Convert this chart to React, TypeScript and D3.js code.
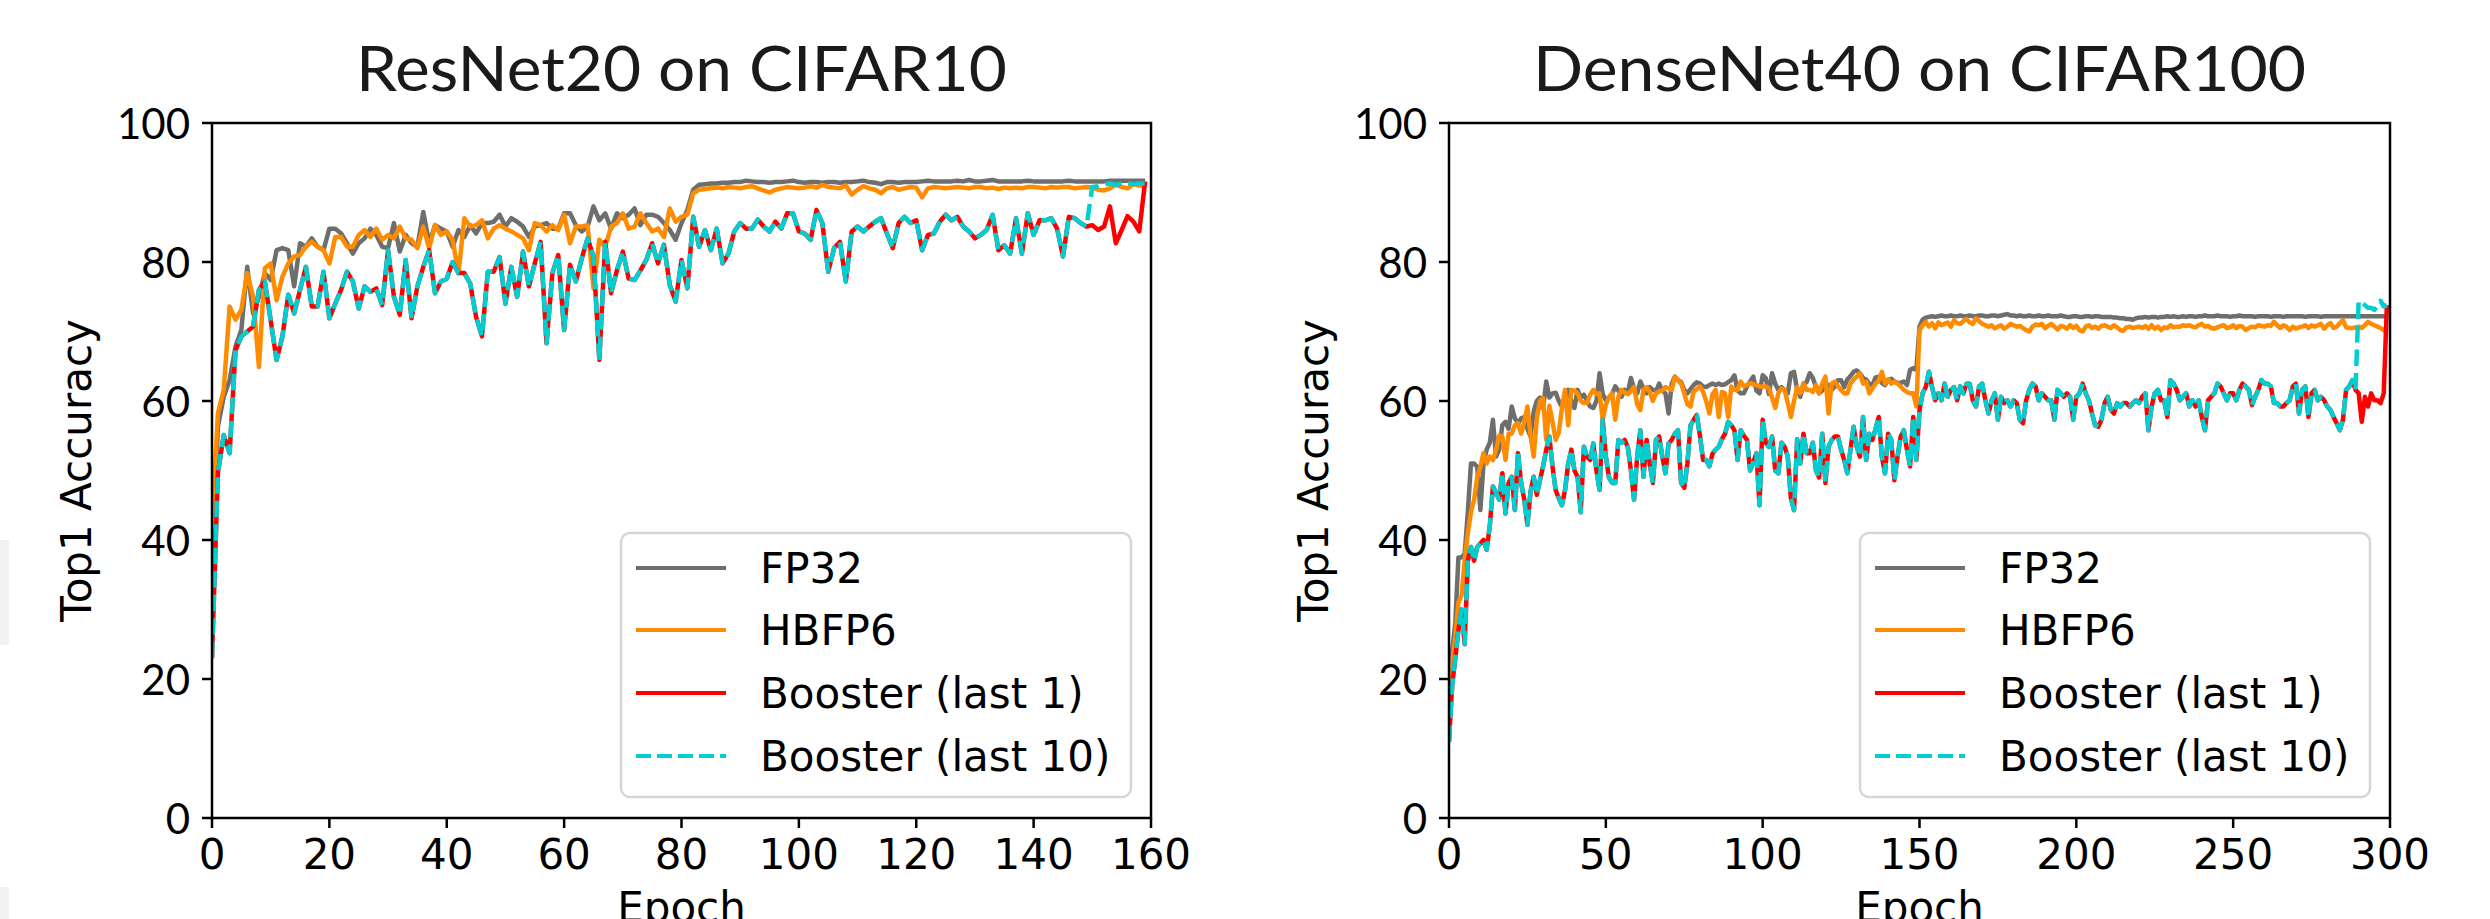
import React from 'react';
import * as d3 from 'd3';

// ---------- data ----------
const legendLabels = ['FP32', 'HBFP6', 'Booster (last 1)', 'Booster (last 10)'];
const yTicks = [0, 20, 40, 60, 80, 100];
const resnetXTicks = [0, 20, 40, 60, 80, 100, 120, 140, 160];
const densenetXTicks = [0, 50, 100, 150, 200, 250, 300];

// ResNet20 on CIFAR10, epochs 0..159
const resnetFp32 = [
  33, 56.3, 60.6, 63, 67.8, 70.2, 79.3, 72.6, 75, 78.4,
  77.4, 81.7, 82, 81.7, 76.5, 82.7, 82.2, 83.4, 82.2, 81.7,
  84.8, 84.8, 84.1, 82.7, 81.2, 82.7, 83.4, 84.8, 83.9, 82.2,
  82, 85.6, 81.5, 83.9, 82.7, 82.2, 87.2, 82.7, 85.3, 84.8,
  84.4, 82.2, 84.6, 83.6, 85.3, 84.1, 85.6, 85.6, 85.8, 86.8,
  85.1, 86.3, 85.8, 85.1, 83.6, 85.1, 85.3, 85.6, 84.8, 84.8,
  87, 87, 85.3, 84.4, 85.1, 88, 86, 87, 84.8, 87,
  86.3, 86.8, 87.7, 85.3, 86.8, 86.8, 86.5, 85.6, 84.6, 83.2,
  85.6, 87.5, 90.4, 91.1, 91.2, 91.3, 91.3, 91.4, 91.4, 91.5,
  91.5, 91.7, 91.6, 91.5, 91.5, 91.4, 91.5, 91.5, 91.6, 91.7,
  91.5, 91.4, 91.5, 91.5, 91.4, 91.5, 91.5, 91.4, 91.5, 91.5,
  91.6, 91.7, 91.5, 91.4, 91.2, 91.5, 91.5, 91.4, 91.5, 91.5,
  91.5, 91.6, 91.7, 91.6, 91.6, 91.6, 91.6, 91.7, 91.6, 91.8,
  91.6, 91.6, 91.7, 91.8, 91.6, 91.6, 91.6, 91.6, 91.6, 91.7,
  91.6, 91.6, 91.6, 91.6, 91.6, 91.6, 91.7, 91.6, 91.6, 91.6,
  91.6, 91.6, 91.6, 91.7, 91.7, 91.7, 91.7, 91.7, 91.7, 91.7,
];
const resnetHbfp6 = [
  41.4, 58.2, 61.6, 73.6, 71.7, 73.1, 78.4, 75, 64.9, 79.1,
  79.8, 74.5, 77.9, 79.8, 80.8, 81, 82.2, 82.9, 82.2, 81.7,
  79.8, 83.6, 83.6, 82.2, 82.2, 83.9, 84.6, 83.6, 84.8, 83.2,
  83.9, 83.4, 85.1, 83.4, 83.2, 82, 85.1, 82, 85.3, 83.9,
  84.4, 83.2, 78.4, 86.3, 85.1, 85.3, 86, 83.4, 84.8, 85.3,
  84.8, 84.4, 83.9, 83.4, 81.7, 85.6, 85.3, 84.4, 85.3, 84.6,
  86.8, 82.7, 85.1, 85.1, 85.3, 76.2, 83.2, 82.2, 85.1, 85.6,
  87, 84.8, 85.1, 87, 85.6, 84.4, 84.8, 83.6, 87.7, 85.8,
  86.5, 86.8, 89.9, 90.4, 90.5, 90.6, 90.7, 90.6, 90.8, 90.7,
  90.6, 90.8, 90.9, 90.6, 90.3, 90.0, 90.4, 90.6, 90.8, 90.7,
  90.6, 90.7, 90.9, 90.7, 91.1, 90.8, 90.7, 90.6, 91.0, 89.7,
  90.4, 90.9, 90.6, 90.4, 89.9, 90.6, 90.8, 90.4, 90.6, 90.8,
  90.7, 89.3, 90.6, 90.8, 90.7, 90.6, 90.7, 90.8, 90.7, 90.6,
  90.8, 90.8, 90.6, 90.7, 90.5, 90.7, 90.6, 90.7, 90.6, 90.8,
  90.8, 90.7, 90.6, 90.8, 90.7, 90.8, 90.8, 90.6, 90.7, 90.8,
  90.7, 90.4, 90.3, 90.6, 91.1, 90.8, 90.6, 91.2, 91.0, 90.9,
];
const resnetBoostLast1 = [
  23, 49.6, 55.1, 52.5, 67.3, 69.3, 70, 70.7, 76, 77.2,
  71.6, 65.9, 69.3, 75.3, 72.6, 76, 79.3, 73.6, 73.6, 78.6,
  71.9, 74, 76, 78.6, 77.2, 73.3, 76.5, 75.7, 76.2, 73.8,
  81.7, 75, 72.4, 80.3, 71.9, 76.5, 79.3, 81.7, 75.5, 77.2,
  77.6, 80, 78.4, 78.4, 76.9, 72.1, 69.3, 78.6, 78.6, 80.7,
  74, 79.3, 75, 81.5, 76.5, 79.8, 82.9, 68.3, 78.4, 81,
  70.2, 79.6, 77.2, 80.5, 83.4, 80.8, 65.9, 82.9, 75.5, 78.8,
  81.5, 77.6, 77.4, 78.8, 80.3, 82.7, 79.8, 82.5, 76.7, 74.3,
  80.3, 76.2, 86.5, 82.2, 84.6, 81.7, 84.8, 79.8, 81.2, 84.4,
  85.6, 84.8, 84.8, 86.1, 85.1, 84.4, 85.8, 84.8, 87, 87,
  84.4, 84.1, 83.2, 87.5, 85.6, 78.6, 82, 82.9, 77.2, 84.4,
  85.1, 84.4, 85.1, 85.8, 86.3, 84.1, 82, 85.6, 86.5, 85.6,
  86, 81.7, 83.9, 84.1, 85.8, 86.8, 86, 86.5, 85.1, 84.4,
  83.4, 83.9, 84.6, 86.8, 81.7, 82.4, 81.2, 86.3, 81.2, 87,
  83.9, 86, 86, 86.3, 84.8, 80.8, 86.5, 86.3, 85.6, 85.1,
  85.3, 84.6, 85.1, 88, 82.7, 84.6, 86.6, 85.8, 84.4, 91.6,
];
// last 10 epochs of "Booster (last 10)" (epochs 150..159)
const resnetBoostTail10 = [90.8, 90.9, 91.2, 91.3, 91.1, 91.3, 91.4, 91.2, 91.3, 91.3];

// DenseNet40 on CIFAR100, epochs 0..299
const densenetFp32 = [
  19, 24, 28, 37.5, 37.5, 38, 44, 51, 51, 50.5,
  44.3, 51, 53, 54, 57.3, 52, 53, 56.5, 57, 56,
  59.2, 57.5, 56.8, 57.5, 57.7, 56, 54.9, 58.5, 60, 60.5,
  59, 62.8, 60.5, 61.1, 61.2, 60, 59.2, 60.5, 61.6, 60,
  59, 61.6, 60.5, 60.9, 60, 59.2, 59, 60, 64, 61,
  60.1, 60.5, 61, 62.1, 61.5, 60.6, 61.6, 61.2, 63.3, 61.8,
  61.1, 62.8, 61.8, 61.1, 62, 61.6, 61.4, 62.5, 61.5, 61.1,
  58.2, 62.5, 63.5, 63, 62.7, 61.6, 61.1, 61.7, 62.3, 62.7,
  62.5, 62.1, 62, 62.3, 62.5, 62.3, 62.5, 62.3, 62.4, 62.7,
  63, 63.7, 61.5, 61.1, 61.1, 62.1, 62.8, 63.5, 61.5, 61.1,
  63.7, 63.3, 61, 64, 62.5, 61.6, 62, 61.6, 61.1, 64,
  64.2, 61.6, 60.6, 62.5, 62.7, 64, 63.3, 62, 61.1, 61.5,
  62.5, 62.3, 61.6, 62.1, 63, 63, 62, 63.1, 63.6, 64.2,
  64.4, 64, 63.3, 63.1, 62.4, 62.3, 63.4, 63.5, 62.6, 62.3,
  63, 63.2, 62.8, 62.6, 62.6, 62.8, 62.3, 64.5, 64.7, 64.5,
  70.7, 71.7, 72.0, 72.1, 72.2, 72.1, 72.2, 72.3, 72.2, 72.2,
  72.3, 72.2, 72.2, 72.3, 72.2, 72.2, 72.3, 72.2, 72.2, 72.3,
  72.3, 72.2, 72.2, 72.3, 72.3, 72.2, 72.3, 72.4, 72.5, 72.3,
  72.3, 72.2, 72.3, 72.2, 72.2, 72.3, 72.2, 72.2, 72.3, 72.2,
  72.2, 72.3, 72.2, 72.2, 72.2, 72.3, 72.2, 72.1, 72.1, 72.2,
  72.2, 72.1, 72.1, 72.2, 72.2, 72.1, 72.2, 72.2, 72.1, 72.1,
  72.1, 72.1, 72.0, 72.0, 71.9, 71.9, 71.8, 71.8, 71.7, 71.9,
  72.0, 72.0, 72.1, 72.0, 72.1, 72.1, 72.0, 72.1, 72.1, 72.2,
  72.1, 72.2, 72.1, 72.1, 72.2, 72.1, 72.2, 72.2, 72.1, 72.2,
  72.2, 72.3, 72.2, 72.2, 72.2, 72.3, 72.2, 72.2, 72.2, 72.1,
  72.2, 72.2, 72.3, 72.2, 72.2, 72.2, 72.2, 72.1, 72.2, 72.2,
  72.2, 72.2, 72.1, 72.2, 72.2, 72.2, 72.1, 72.2, 72.2, 72.2,
  72.2, 72.2, 72.2, 72.1, 72.2, 72.2, 72.2, 72.2, 72.1, 72.2,
  72.2, 72.2, 72.2, 72.2, 72.2, 72.2, 72.2, 72.2, 72.2, 72.2,
  72.2, 72.2, 72.2, 72.2, 72.2, 72.2, 72.2, 72.2, 72.2, 72.2,
];
const densenetHbfp6 = [
  17, 22, 26, 31, 32, 37, 41, 44, 45.8, 49,
  50.5, 52.5, 51, 52, 51.5, 53, 55, 54.9, 51.5, 55.3,
  55.3, 56.5, 56.8, 55.3, 57, 59.2, 55, 52, 57.5, 60,
  60.4, 54.4, 59.3, 57, 54.4, 55.5, 59, 61.6, 56.5, 61.6,
  61.5, 61.1, 60, 59.7, 59.7, 60.9, 61.6, 61, 61.1, 57.3,
  59.5, 60.5, 61.1, 57.3, 60.6, 61.6, 61.2, 61, 61.4, 62,
  59.5, 58.7, 61.6, 62, 61.3, 60, 61.1, 61.4, 61.5, 62,
  61.8, 61.6, 63.5, 63, 62.5, 61.1, 59.5, 59.2, 61.4, 61.7,
  62.1, 61.3, 60, 58.2, 61, 61.6, 57.7, 61.3, 61.1, 57.7,
  62.1, 61.6, 61.6, 62.8, 62.1, 62.3, 62.6, 62.4, 62.3, 62.1,
  62.1, 62.1, 61.8, 60.5, 59, 61.1, 61.8, 61.6, 59.7, 57.7,
  60, 62, 61.1, 62.5, 61.6, 61.6, 61.3, 62.3, 61.1, 62.5,
  63.5, 58.2, 62.5, 62.8, 62.1, 61.6, 61.1, 61.1, 62.5, 63.1,
  63.5, 64, 62.5, 62.8, 61.1, 61.8, 62.5, 62.9, 64.2, 62.5,
  63.1, 62.5, 62.8, 62.5, 62.1, 61.6, 61.3, 61.1, 61.1, 59.2,
  70.2, 70.9, 71.4, 70.7, 71.2, 70.45, 71.3, 70.9, 71.1, 71.3,
  70.7, 71.6, 71.2, 71.1, 71.5, 71.8, 71.3, 71.1, 71.9, 71.5,
  71.1, 70.9, 70.7, 70.9, 70.45, 70.7, 70.9, 70.4, 70.7, 71.1,
  70.9, 70.7, 70.8, 70.5, 70.2, 70.0, 70.7, 71.0, 70.9, 71.1,
  70.5, 70.8, 71.1, 70.7, 70.3, 70.8, 70.7, 70.4, 70.9, 70.5,
  70.8, 70.2, 70.0, 70.7, 70.9, 70.5, 70.7, 70.4, 70.8, 70.9,
  70.7, 70.5, 70.9, 70.6, 70.2, 70.1, 70.6, 70.7, 70.5, 70.6,
  70.7, 70.5, 70.8, 70.4, 70.9, 70.4, 70.7, 70.2, 70.6, 70.5,
  70.9, 70.6, 70.7, 70.7, 70.9, 70.8, 70.9, 70.7, 70.6, 70.9,
  71.1, 70.7, 70.8, 70.5, 70.4, 70.6, 70.8, 70.9, 70.5, 70.6,
  70.9, 70.5, 70.8, 70.7, 70.2, 70.5, 70.7, 70.6, 70.9, 70.8,
  70.7, 70.9, 70.8, 71.4, 70.9, 70.5, 70.9, 70.7, 70.2, 70.7,
  70.4, 70.6, 70.7, 70.9, 70.5, 70.9, 70.7, 70.9, 71.1, 70.4,
  70.9, 71.2, 70.5, 70.7, 71.2, 71.65, 70.6, 70.5, 70.5, 70.6,
  70.7, 70.5, 70.9, 71.4, 71.1, 70.9, 70.7, 70.5, 70.2, 69.7,
];
const densenetBoostLast1 = [
  11, 19, 23, 27, 30, 25, 37, 39, 37, 39,
  39.5, 40, 38.6, 42, 47.7, 46.8, 45.8, 49.6, 43.8, 48.2,
  49.1, 44.3, 52.5, 48.2, 45.8, 42.2, 47, 49.1, 46.5, 48.6,
  50.6, 53, 54.9, 50.6, 47.2, 46, 45, 47.2, 51, 53,
  50, 49.1, 44, 53.4, 52, 51.5, 53.9, 50, 47.2, 57.3,
  52, 49, 48.2, 48.2, 54.4, 54, 54.4, 53.4, 50, 45.8,
  52, 55.8, 49.1, 54.4, 51, 48.2, 54.4, 54.9, 52, 49.6,
  53.9, 54.4, 55.3, 55.8, 48.2, 47.5, 51, 56.5, 57.3, 58,
  55, 51.5, 51.5, 50.6, 52.4, 53, 53.4, 54.5, 55.3, 57,
  56.5, 55.8, 51.5, 55.8, 55, 54.4, 50, 51.2, 52.5, 45,
  57.3, 54, 53.4, 54.9, 50, 49.6, 54, 53.4, 52, 46,
  44.3, 54.5, 51, 55.3, 52.5, 52.5, 54, 50, 49, 55.3,
  48.2, 53.4, 54.4, 54.9, 54.9, 53, 51.5, 49.6, 53, 56.3,
  53.4, 52, 57.7, 51.5, 55.3, 54.4, 56, 57.7, 52, 49.6,
  55.3, 54.4, 48.6, 52, 54.9, 55.8, 53, 50.6, 57.7, 51.5,
  58.7, 61.1, 62, 64.2, 62, 60.1, 61.1, 60.1, 62.5, 60.6,
  61.6, 62, 60.1, 62.1, 61.1, 62.5, 62.5, 60.1, 59.2, 62.1,
  62.5, 60.1, 58.2, 60.1, 61.1, 57.3, 60.6, 59.7, 60.1, 59.2,
  60.1, 59.7, 57.3, 56.8, 60.1, 61.6, 62.5, 62.1, 60.1, 61.1,
  60.6, 60.1, 60.1, 57.3, 61.6, 61.1, 60.6, 61.1, 60.6, 57.3,
  60.6, 61.1, 62.5, 61.1, 60.1, 58.2, 56.5, 56.3, 57.3, 59.7,
  60.6, 58.7, 58.2, 59.7, 59.2, 59.7, 59.7, 59.2, 59.7, 60.1,
  59.7, 60.6, 61.1, 55.8, 59.2, 61.1, 61.6, 60.1, 60.1, 57.7,
  63, 62.5, 61.6, 60.1, 60.6, 61.1, 59.2, 60.1, 59.2, 60.1,
  57.7, 55.8, 60.1, 60.6, 61.1, 62.5, 62.1, 61.1, 60.1, 61.1,
  61.1, 60.1, 61.6, 62.5, 62.1, 61.6, 59.4, 60.6, 61.6, 63,
  62.5, 62.5, 62.1, 59.7, 59.7, 59.2, 59.2, 59.7, 60.1, 62.1,
  62.5, 58.2, 61.6, 62.1, 57.7, 61.1, 61.6, 60.1, 60.6, 60.1,
  59.2, 58.7, 57.7, 56.8, 55.8, 57.3, 61.6, 62.1, 63, 61.6,
  61.1, 57, 60.6, 59.2, 61.1, 60.1, 60.1, 59.7, 61.1, 73.8,
];
// last 10 epochs of "Booster (last 10)" (epochs 290..299)
const densenetBoostTail10 = [74.4, 74.2, 73.8, 73.4, 73.4, 73.1, 73.6, 74.4, 73.6, 73.8];

// ---------- layout ----------
const W = 2490;
const H = 919;
const TOP = 123;
const BOTTOM = 818;
const COLORS = ['#6e6e6e', '#ff8c00', '#ff0000', '#00ced1'];
const LW = 4.5;
const DASH = '16.5,7';
const DEJAVU = "'DejaVu Sans', sans-serif";
const TITLEFONT = "Lato, 'Open Sans', sans-serif";

type PanelProps = {
  id: string;
  title: string;
  titleWidth: number;
  left: number;
  right: number;
  xMax: number;
  xTicks: number[];
  fp32: number[];
  hbfp6: number[];
  boost1: number[];
  boostTail: number[];
  ylabelX: number;
};

function Panel(p: PanelProps) {
  const x = d3.scaleLinear().domain([0, p.xMax]).range([p.left, p.right]);
  const y = d3.scaleLinear().domain([0, 100]).range([BOTTOM, TOP]);
  const line = d3.line<number>().x((_, i) => x(i)).y(d => y(d));

  const n = p.boost1.length;
  const boost10 = p.boost1.slice(0, n - p.boostTail.length).concat(p.boostTail);
  const series = [p.fp32, p.hbfp6, p.boost1, boost10];
  const cx = (p.left + p.right) / 2;

  // legend box
  const lgRight = p.right - 20;
  const lgLeft = lgRight - 510;
  const lgTop = 533;
  const rowY = [568, 630, 693, 756];

  return (
    <g>
      <defs>
        <clipPath id={`clip-${p.id}`}>
          <rect x={p.left} y={TOP} width={p.right - p.left} height={BOTTOM - TOP} />
        </clipPath>
      </defs>

      {/* title */}
      <text x={cx} y={91} textAnchor="middle" fontFamily={TITLEFONT} fontSize={62}
        fill="#1a1a1a" textLength={p.titleWidth} lengthAdjust="spacingAndGlyphs">{p.title}</text>

      {/* series */}
      <g clipPath={`url(#clip-${p.id})`}>
        {series.map((s, i) => (
          <path key={i} d={line(s) || ''} fill="none" stroke={COLORS[i]} strokeWidth={LW}
            strokeLinejoin="round" strokeDasharray={i === 3 ? DASH : undefined} />
        ))}
      </g>

      {/* frame */}
      <rect x={p.left} y={TOP} width={p.right - p.left} height={BOTTOM - TOP}
        fill="none" stroke="#000" strokeWidth={2.5} />

      {/* y axis */}
      {yTicks.map(t => (
        <g key={`y${t}`}>
          <line x1={p.left - 10} x2={p.left} y1={y(t)} y2={y(t)} stroke="#000" strokeWidth={2.5} />
          <text x={p.left - 22} y={y(t) + 16} textAnchor="end" fontFamily={TITLEFONT}
            fontSize={42} fill="#000">{t}</text>
        </g>
      ))}

      {/* x axis */}
      {p.xTicks.map(t => (
        <g key={`x${t}`}>
          <line x1={x(t)} x2={x(t)} y1={BOTTOM} y2={BOTTOM + 10} stroke="#000" strokeWidth={2.5} />
          <text x={x(t)} y={869} textAnchor="middle" fontFamily={DEJAVU} fontSize={42} fill="#000">{t}</text>
        </g>
      ))}

      {/* axis labels */}
      <text x={cx} y={922} textAnchor="middle" fontFamily={DEJAVU} fontSize={42} fill="#000">Epoch</text>
      <text transform={`translate(${p.ylabelX},${(TOP + BOTTOM) / 2}) rotate(-90)`} textAnchor="middle"
        fontFamily={DEJAVU} fontSize={42} fill="#000">Top1 Accuracy</text>

      {/* legend */}
      <rect x={lgLeft} y={lgTop} width={lgRight - lgLeft} height={264} rx={9} ry={9}
        fill="#fff" fillOpacity={0.8} stroke="#d6d6d6" strokeWidth={2.5} />
      {legendLabels.map((lab, i) => (
        <g key={lab}>
          <line x1={lgLeft + 15} x2={lgLeft + 105} y1={rowY[i]} y2={rowY[i]} stroke={COLORS[i]}
            strokeWidth={4.2} strokeDasharray={i === 3 ? '15,6' : undefined} />
          <text x={lgLeft + 139} y={rowY[i] + 15} fontFamily={DEJAVU} fontSize={42} fill="#000">{lab}</text>
        </g>
      ))}
    </g>
  );
}

export default function App() {
  return (
    <svg width={W} height={H} viewBox={`0 0 ${W} ${H}`}
      style={{ position: 'absolute', left: 0, top: 0, display: 'block', background: '#fff' }}>
      <rect x={0} y={0} width={W} height={H} fill="#fff" />
      {/* faint scan artefacts at the left edge */}
      <rect x={0} y={540} width={9} height={105} fill="#f1f2f2" />
      <rect x={0} y={887} width={9} height={32} fill="#f1f2f2" />
      <Panel id="resnet" title="ResNet20 on CIFAR10" titleWidth={651} left={212} right={1151}
        xMax={160} xTicks={resnetXTicks} fp32={resnetFp32} hbfp6={resnetHbfp6}
        boost1={resnetBoostLast1} boostTail={resnetBoostTail10} ylabelX={91} />
      <Panel id="densenet" title="DenseNet40 on CIFAR100" titleWidth={773} left={1449} right={2390}
        xMax={300} xTicks={densenetXTicks} fp32={densenetFp32} hbfp6={densenetHbfp6}
        boost1={densenetBoostLast1} boostTail={densenetBoostTail10} ylabelX={1328} />
    </svg>
  );
}
